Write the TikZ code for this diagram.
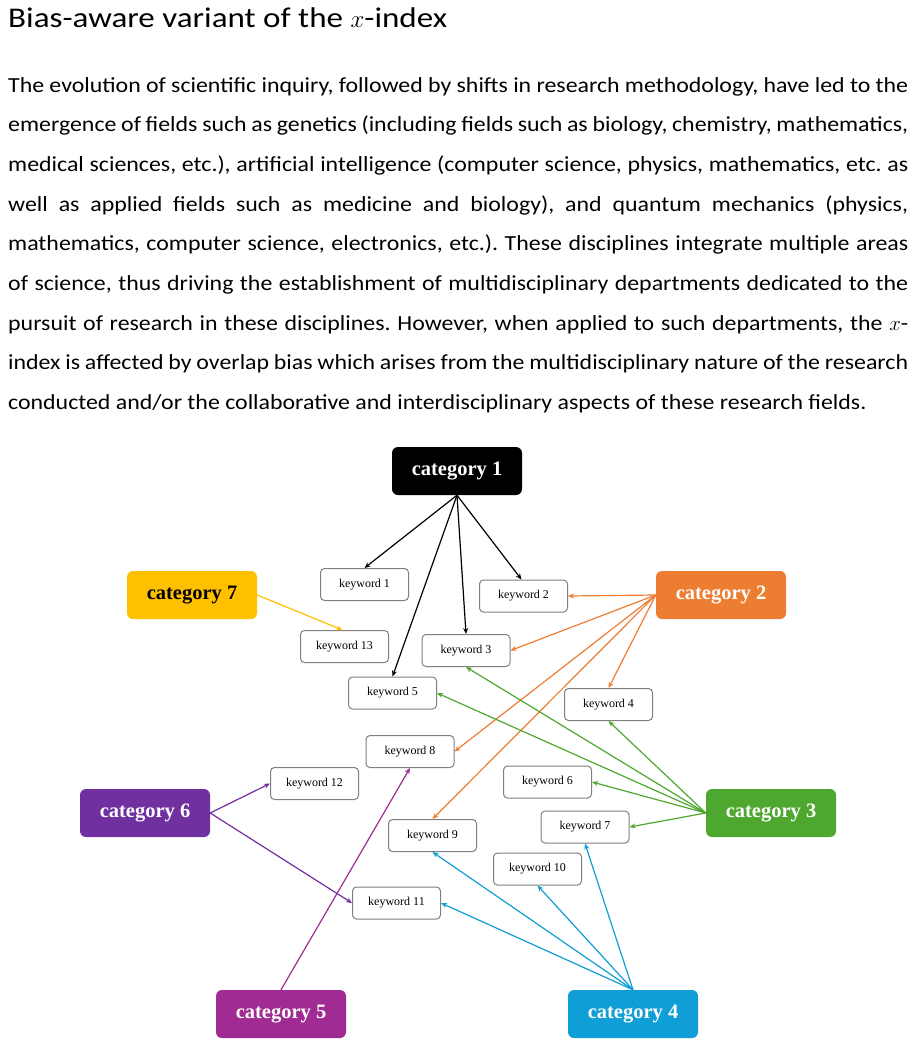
\documentclass[tikz,border=0pt]{standalone}
\usepackage{fontspec}
\setmainfont{Carlito}[FakeStretch=1.11]
\newfontfamily\headfont{Carlito}[FakeStretch=1.16]
\newfontfamily\diagfont{Liberation Serif}
\usetikzlibrary{arrows.meta,positioning}
\frenchspacing
\definecolor{catBlack}{HTML}{000000}
\definecolor{catGold}{HTML}{FFC000}
\definecolor{catOrange}{HTML}{ED7D31}
\definecolor{catGreen}{HTML}{4EA72E}
\definecolor{catBlue}{HTML}{0F9ED5}
\definecolor{catPurple}{HTML}{7030A0}
\definecolor{catMagenta}{HTML}{A02B93}
\definecolor{kwGray}{HTML}{808080}

\begin{document}
\begin{tikzpicture}[
    x=1pt, y=-1pt,
    title/.style={anchor=base west, inner sep=0pt, font=\headfont\fontsize{28.5}{32}\selectfont},
    para/.style={anchor=base west, inner sep=0pt, font=\fontsize{21.5}{25}\selectfont},
    cat/.style={rounded corners=6pt, minimum width=130pt, minimum height=48pt, inner sep=0pt, font=\diagfont\fontsize{20.5}{24}\selectfont\bfseries},
    kw/.style={draw=kwGray, fill=white, line width=1pt, rounded corners=4pt, minimum width=88pt, minimum height=32pt, inner sep=0pt, font=\diagfont\fontsize{12}{14}\selectfont},
    link/.style={-{Stealth[length=6pt,width=5pt]}, line width=1.2pt}
  ]
    \useasboundingbox (0,0) rectangle (916,1045);

    % Text
    \node[title] (head) at (8,27) {Bias-aware variant of the $x$-index};
    \node[para] (l1) at (8,92) {\hbox to 900pt{The evolution of scientific inquiry, followed by shifts in research methodology, have led to the}};
    \node[para] (l2) at (8,131.5) {\hbox to 900pt{emergence of fields such as genetics (including fields such as biology, chemistry, mathematics,}};
    \node[para] (l3) at (8,171) {\hbox to 900pt{medical sciences, etc.), artificial intelligence (computer science, physics, mathematics, etc. as}};
    \node[para] (l4) at (8,211) {\hbox to 900pt{well as applied fields such as medicine and biology), and quantum mechanics (physics,}};
    \node[para] (l5) at (8,250.5) {\hbox to 900pt{mathematics, computer science, electronics, etc.). These disciplines integrate multiple areas}};
    \node[para] (l6) at (8,290) {\hbox to 900pt{of science, thus driving the establishment of multidisciplinary departments dedicated to the}};
    \node[para] (l7) at (8,330) {\hbox to 900pt{pursuit of research in these disciplines. However, when applied to such departments, the $x$-}};
    \node[para] (l8) at (8,369.5) {\hbox to 900pt{index is affected by overlap bias which arises from the multidisciplinary nature of the research}};
    \node[para] (l9) at (8,409) {conducted and/or the collaborative and interdisciplinary aspects of these research fields.};

    % Categories
    \node[cat, fill=catBlack, text=white] (cat1) at (457,471) {category 1};
    \node[cat, fill=catOrange, text=white] (cat2) at (721,595) {category 2};
    \node[cat, fill=catGreen, text=white] (cat3) at (771,813) {category 3};
    \node[cat, fill=catBlue, text=white] (cat4) at (633,1014) {category 4};
    \node[cat, fill=catMagenta, text=white] (cat5) at (281,1014) {category 5};
    \node[cat, fill=catPurple, text=white] (cat6) at (145,813) {category 6};
    \node[cat, fill=catGold, text=black] (cat7) at (192,595) {category 7};

    % Keywords
    \node[kw] (kw1) at (364.5,584.5) {keyword 1};
    \node[kw] (kw2) at (523.5,596) {keyword 2};
    \node[kw] (kw3) at (466,650.5) {keyword 3};
    \node[kw] (kw4) at (608.5,704.5) {keyword 4};
    \node[kw] (kw5) at (392.5,693) {keyword 5};
    \node[kw] (kw6) at (547.5,782) {keyword 6};
    \node[kw] (kw7) at (585,827) {keyword 7};
    \node[kw] (kw8) at (410,751.5) {keyword 8};
    \node[kw] (kw9) at (432.5,835.5) {keyword 9};
    \node[kw] (kw10) at (537.5,869) {keyword 10};
    \node[kw] (kw11) at (396.5,903) {keyword 11};
    \node[kw] (kw12) at (314.5,783.5) {keyword 12};
    \node[kw] (kw13) at (344.5,646.5) {keyword 13};

    % Edges
    \draw[link, catBlack] (cat1.south) -- (kw1.north);
    \draw[link, catBlack] (cat1.south) -- ([xshift=-2pt]kw2.north);
    \draw[link, catBlack] (cat1.south) -- (kw3.north);
    \draw[link, catBlack] (cat1.south) -- (kw5.north);

    \draw[link, catGold] (cat7.east) -- ([xshift=-2pt]kw13.north);

    \draw[link, catOrange] (cat2.west) -- (kw2.east);
    \draw[link, catOrange] (cat2.west) -- (kw3.east);
    \draw[link, catOrange] (cat2.west) -- (kw8.east);
    \draw[link, catOrange] (cat2.west) -- (kw9.north);
    \draw[link, catOrange] (cat2.west) -- (kw4.north);

    \draw[link, catGreen] (cat3.west) -- (kw3.south);
    \draw[link, catGreen] (cat3.west) -- (kw5.east);
    \draw[link, catGreen] (cat3.west) -- (kw4.south);
    \draw[link, catGreen] (cat3.west) -- (kw6.east);
    \draw[link, catGreen] (cat3.west) -- (kw7.east);

    \draw[link, catBlue] (cat4.north) -- (kw7.south);
    \draw[link, catBlue] (cat4.north) -- (kw10.south);
    \draw[link, catBlue] (cat4.north) -- (kw9.south);
    \draw[link, catBlue] (cat4.north) -- (kw11.east);

    \draw[link, catPurple] (cat6.east) -- (kw12.west);
    \draw[link, catPurple] (cat6.east) -- (kw11.west);

    \draw[link, catMagenta] (cat5.north) -- (kw8.south);
  \end{tikzpicture}
\end{document}
